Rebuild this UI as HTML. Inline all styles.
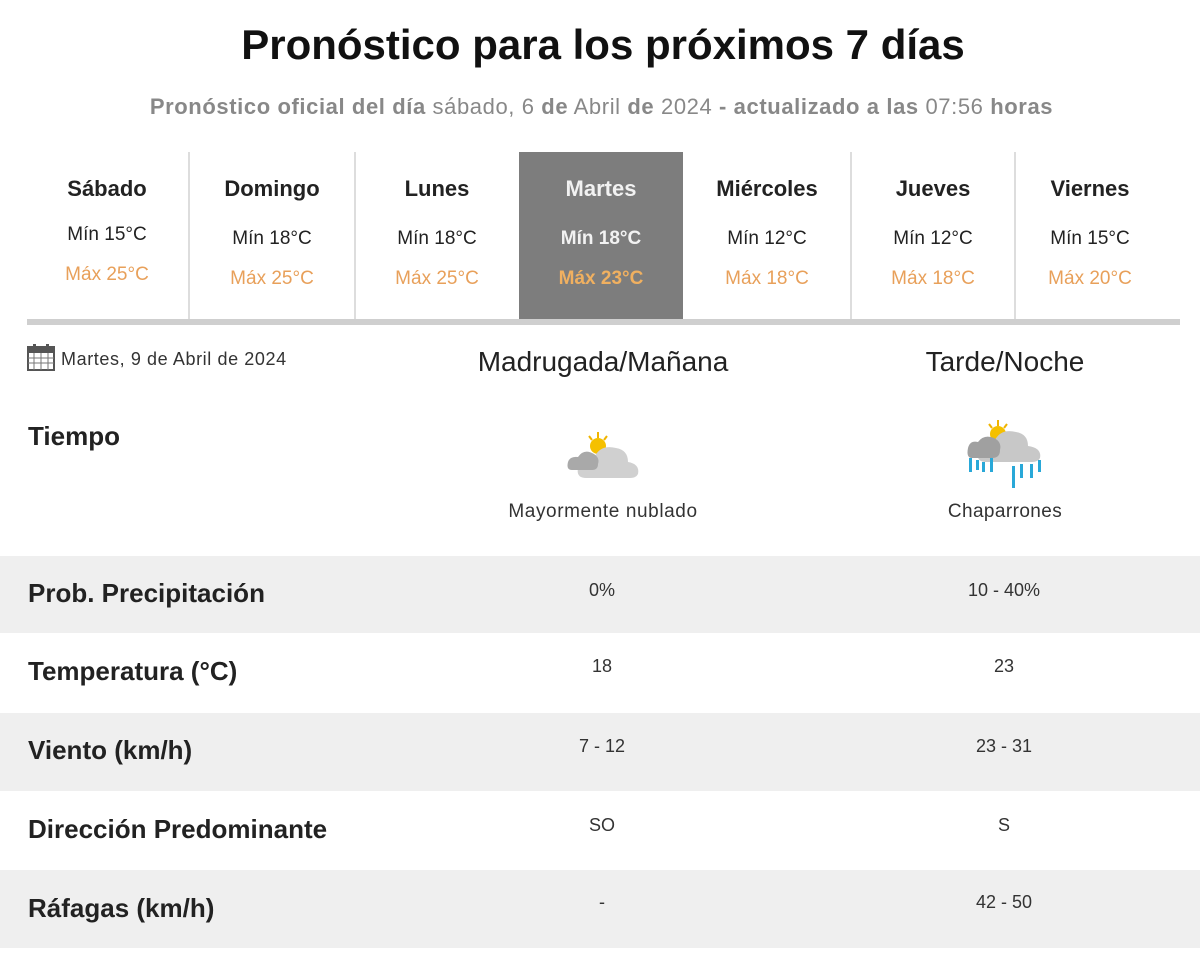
<!DOCTYPE html>
<html><head><meta charset="utf-8"><style>
body{margin:0;width:1200px;height:960px;background:#fff;font-family:"Liberation Sans",sans-serif;position:relative;overflow:hidden;color:#222}
.a{position:absolute}
.c{text-align:center}
.day{position:absolute;top:152px;height:168px;text-align:center}
.day .n{position:absolute;top:24px;width:100%;font-size:22px;font-weight:bold;color:#222}
.day .mi{position:absolute;top:76px;width:100%;font-size:19px;color:#222}
.day .ma{position:absolute;top:116px;width:100%;font-size:19px;color:#e8a05a}
.sep{position:absolute;top:152px;width:2px;height:168px;background:#ddd}
.band{position:absolute;left:0;width:1200px;background:#efefef}
.lbl{position:absolute;left:28px;font-size:26px;font-weight:bold;color:#222}
.v{position:absolute;font-size:18px;color:#333;text-align:center;width:200px}
</style></head><body>
<div class="a c" style="left:0;top:21px;width:1206px;font-size:42px;font-weight:bold;color:#111">Pronóstico para los próximos 7 días</div>
<div class="a c" style="left:0;top:94px;width:1203px;font-size:22px;color:#888;letter-spacing:0.6px"><b>Pronóstico oficial del día</b> sábado, 6 <b>de</b> Abril <b>de</b> 2024 <b>- actualizado a las</b> 07:56 <b>horas</b></div>

<div class="a" style="left:519px;top:152px;width:164px;height:168px;background:#7d7d7d"></div>
<div class="day" style="left:25px;width:164px"><div class="n">Sábado</div><div class="mi" style="top:72px">Mín 15°C</div><div class="ma" style="top:112px">Máx 25°C</div></div>
<div class="day" style="left:189px;width:166px"><div class="n">Domingo</div><div class="mi">Mín 18°C</div><div class="ma">Máx 25°C</div></div>
<div class="day" style="left:355px;width:164px"><div class="n">Lunes</div><div class="mi">Mín 18°C</div><div class="ma">Máx 25°C</div></div>
<div class="day" style="left:519px;width:164px"><div class="n" style="color:#f2f2f2">Martes</div><div class="mi" style="color:#f2f2f2;font-weight:bold">Mín 18°C</div><div class="ma" style="color:#f0b060;font-weight:bold">Máx 23°C</div></div>
<div class="day" style="left:683px;width:168px"><div class="n">Miércoles</div><div class="mi">Mín 12°C</div><div class="ma">Máx 18°C</div></div>
<div class="day" style="left:851px;width:164px"><div class="n">Jueves</div><div class="mi">Mín 12°C</div><div class="ma">Máx 18°C</div></div>
<div class="day" style="left:1015px;width:150px"><div class="n">Viernes</div><div class="mi">Mín 15°C</div><div class="ma">Máx 20°C</div></div>
<div class="sep" style="left:188px"></div><div class="sep" style="left:354px"></div><div class="sep" style="left:850px"></div><div class="sep" style="left:1014px"></div>
<div class="a" style="left:27px;top:319px;width:1153px;height:6px;background:#cfcfcf"></div>

<svg class="a" style="left:27px;top:343px" width="28" height="28" viewBox="0 0 28 28"><rect x="1" y="4" width="26" height="23" fill="#fff" stroke="#555" stroke-width="2"/><rect x="1" y="4" width="26" height="6" fill="#555"/><g stroke="#777" stroke-width="1"><line x1="1" y1="15" x2="27" y2="15"/><line x1="1" y1="20" x2="27" y2="20"/><line x1="7" y1="10" x2="7" y2="27"/><line x1="14" y1="10" x2="14" y2="27"/><line x1="21" y1="10" x2="21" y2="27"/></g><rect x="6" y="1" width="3" height="6" fill="#555"/><rect x="19" y="1" width="3" height="6" fill="#555"/></svg>
<div class="a" style="left:61px;top:349px;font-size:18px;color:#333;letter-spacing:0.6px">Martes, 9 de Abril de 2024</div>
<div class="a c" style="left:453px;top:346px;width:300px;font-size:28px;color:#222">Madrugada/Mañana</div>
<div class="a c" style="left:855px;top:346px;width:300px;font-size:28px;color:#222">Tarde/Noche</div>
<div class="lbl" style="top:421px">Tiempo</div>

<svg class="a" style="left:562px;top:430px" width="82" height="52" viewBox="0 0 82 52"><g stroke="#f0b400" stroke-width="2"><line x1="36" y1="2" x2="36" y2="8"/><line x1="27" y1="6" x2="30" y2="10"/><line x1="45" y1="6" x2="42" y2="10"/></g><circle cx="36" cy="16" r="8" fill="#f5c000"/><path d="M24 48 Q14 48 16 38 Q18 26 32 28 Q38 14 54 18 Q66 20 66 32 Q78 34 76 44 Q74 48 68 48Z" fill="#d0d0d0"/><path d="M10 40 Q4 40 6 32 Q8 26 16 27 Q22 18 32 24 Q38 28 36 34 Q36 40 30 40Z" fill="#a9a9a9"/></svg>
<div class="a c" style="left:453px;top:501px;width:300px;font-size:19px;color:#333;letter-spacing:0.6px">Mayormente nublado</div>

<svg class="a" style="left:964px;top:418px" width="84" height="76" viewBox="0 0 84 76"><g stroke="#f0b400" stroke-width="2"><line x1="34" y1="2" x2="34" y2="8"/><line x1="25" y1="6" x2="28" y2="10"/><line x1="43" y1="6" x2="40" y2="10"/></g><circle cx="34" cy="16" r="8" fill="#f5c000"/><path d="M22 44 Q12 44 14 34 Q16 22 30 24 Q36 10 52 14 Q64 16 64 28 Q78 30 76 40 Q74 44 68 44Z" fill="#c8c8c8"/><path d="M8 40 Q2 40 4 30 Q6 22 14 24 Q20 16 30 20 Q38 24 36 32 Q36 40 28 40Z" fill="#a0a0a0"/><g fill="#29a8d8"><rect x="5" y="40" width="3" height="14"/><rect x="12" y="42" width="3" height="10"/><rect x="18" y="44" width="3" height="10"/><rect x="26" y="40" width="3" height="14"/><rect x="48" y="48" width="3" height="22"/><rect x="56" y="46" width="3" height="14"/><rect x="66" y="46" width="3" height="14"/><rect x="74" y="42" width="3" height="12"/></g></svg>
<div class="a c" style="left:855px;top:501px;width:300px;font-size:19px;color:#333;letter-spacing:0.4px">Chaparrones</div>

<div class="band" style="top:556px;height:77px"></div>
<div class="band" style="top:713px;height:78px"></div>
<div class="band" style="top:870px;height:78px"></div>

<div class="lbl" style="top:578px">Prob. Precipitación</div>
<div class="v" style="left:502px;top:580px">0%</div><div class="v" style="left:904px;top:580px">10 - 40%</div>
<div class="lbl" style="top:656px">Temperatura (°C)</div>
<div class="v" style="left:502px;top:656px">18</div><div class="v" style="left:904px;top:656px">23</div>
<div class="lbl" style="top:735px">Viento (km/h)</div>
<div class="v" style="left:502px;top:736px">7 - 12</div><div class="v" style="left:904px;top:736px">23 - 31</div>
<div class="lbl" style="top:814px">Dirección Predominante</div>
<div class="v" style="left:502px;top:815px">SO</div><div class="v" style="left:904px;top:815px">S</div>
<div class="lbl" style="top:893px">Ráfagas (km/h)</div>
<div class="v" style="left:502px;top:892px">-</div><div class="v" style="left:904px;top:892px">42 - 50</div>
</body></html>
